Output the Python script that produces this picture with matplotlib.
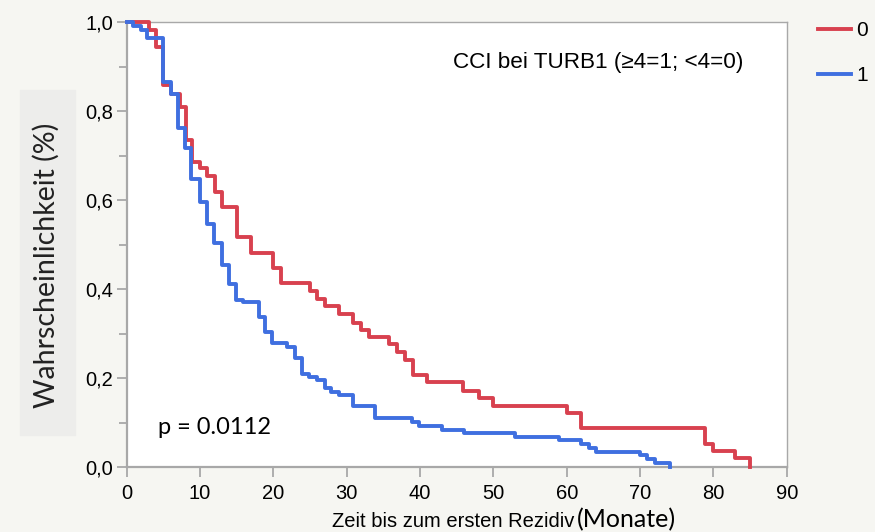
import matplotlib
matplotlib.use('Agg')
import matplotlib.pyplot as plt
from matplotlib.patches import Rectangle

# Kaplan-Meier steps (time in months, survival probability)
red_t = [0, 3.0, 4.0, 4.9, 6.0, 7.2, 8.1, 8.9, 10, 11, 12, 13, 15, 16.9, 20, 21.1,
         25, 26, 27, 29, 30.9, 32, 33, 35.8, 36.9, 38, 39, 41, 45.9, 48, 50, 60, 62,
         78.8, 79.9, 82.9, 85]
red_s = [1.0, 0.982, 0.944, 0.858, 0.838, 0.81, 0.735, 0.686, 0.672, 0.654, 0.619,
         0.585, 0.516, 0.482, 0.447, 0.414, 0.395, 0.378, 0.361, 0.344, 0.324, 0.308,
         0.292, 0.276, 0.258, 0.240, 0.207, 0.19, 0.171, 0.155, 0.138, 0.121, 0.088,
         0.052, 0.036, 0.020, 0.0]

blue_t = [0, 0.8, 1.9, 2.7, 5.0, 6.0, 7.0, 8.0, 8.8, 10, 11, 11.9, 13, 13.9, 14.9,
          15.8, 18.1, 18.9, 19.8, 21.9, 23, 23.9, 24.8, 25.9, 27, 27.9, 29, 30.9,
          33.9, 38.9, 39.9, 43, 46, 53, 59, 62, 63, 64, 70, 71, 72, 74.1]
blue_s = [1.0, 0.99, 0.982, 0.965, 0.866, 0.838, 0.761, 0.717, 0.647, 0.596, 0.545,
          0.504, 0.455, 0.412, 0.376, 0.370, 0.337, 0.304, 0.278, 0.270, 0.244, 0.209,
          0.202, 0.195, 0.177, 0.168, 0.162, 0.136, 0.109, 0.102, 0.093, 0.084, 0.077,
          0.068, 0.060, 0.052, 0.042, 0.034, 0.026, 0.017, 0.009, 0.0]

groups = ['0', '1']
colors = ['#d8414f', '#3f6fe0']

x_ticks = [0, 10, 20, 30, 40, 50, 60, 70, 80, 90]
y_ticks = [0.0, 0.2, 0.4, 0.6, 0.8, 1.0]
y_labels = ['0,0', '0,2', '0,4', '0,6', '0,8', '1,0']

narrow = ['Liberation Sans Narrow', 'Liberation Sans', 'DejaVu Sans']
soft = ['Lato', 'Open Sans', 'DejaVu Sans']

W, H = 875, 532
fig = plt.figure(figsize=(W / 100, H / 100), dpi=100, facecolor='#f6f6f2')
ax = fig.add_axes([126.7 / W, 1 - 467 / H, (786.7 - 126.7) / W, (467 - 22) / H])
ax.set_facecolor('white')

# grey box behind the y label
fig.patches.append(Rectangle((20 / W, 1 - 435 / H), 55 / W, 345 / H,
                             transform=fig.transFigure, color='#ededeb', zorder=0))

l0, = ax.step(red_t, red_s, where='post', color=colors[0], lw=2.8, clip_on=False, zorder=3)
l1, = ax.step(blue_t, blue_s, where='post', color=colors[1], lw=2.8, clip_on=False, zorder=4)

ax.set_xlim(0, 90)
ax.set_ylim(0, 1.0)
ax.set_xticks(x_ticks)
ax.set_xticklabels([str(v) for v in x_ticks], fontfamily=narrow, fontsize=14.5)
ax.set_yticks(y_ticks)
ax.set_yticklabels(y_labels, fontfamily=narrow, fontsize=14.5)
ax.set_yticks([0.1, 0.3, 0.5, 0.7, 0.9], minor=True)

for name, sp in ax.spines.items():
    sp.set_color('#a8a8a8')
    sp.set_linewidth(1.6 if name in ('left', 'bottom') else 1.0)
ax.tick_params(axis='both', which='both', direction='out', color='#a8a8a8', width=1.3)
ax.tick_params(axis='x', which='major', length=7, pad=5)
ax.tick_params(axis='y', which='major', length=7, pad=3)
ax.tick_params(axis='y', which='minor', length=6)

ax.text(64.3, 0.909, 'CCI bei TURB1 (≥4=1; <4=0)', ha='center', va='center',
        fontfamily=narrow, fontsize=16.2)
ax.text(4.2, 0.088, 'p = 0.0112', ha='left', va='center', fontfamily=soft, fontsize=17)

fig.text(46 / W, 1 - 265 / H, 'Wahrscheinlichkeit (%)', rotation=90, ha='center',
         va='center', fontfamily=soft, fontsize=20.5, color='#222222')

# x label in two parts, as in the original
fig.text(574 / W, 1 - 527 / H, 'Zeit bis zum ersten Rezidiv', ha='right', va='baseline',
         fontfamily=narrow, fontsize=14.5)
fig.text(577 / W, 1 - 527 / H, '(Monate)', ha='left', va='baseline',
         fontfamily=soft, fontsize=18)

fig.legend([l0, l1], groups, loc='upper left', bbox_to_anchor=(818 / W, 1 - 21 / H),
           frameon=False, borderpad=0, borderaxespad=0, handlelength=1.6,
           handletextpad=0.25, labelspacing=1.25, prop={'family': narrow, 'size': 15})

fig.savefig('out.png', dpi=100, facecolor=fig.get_facecolor())
